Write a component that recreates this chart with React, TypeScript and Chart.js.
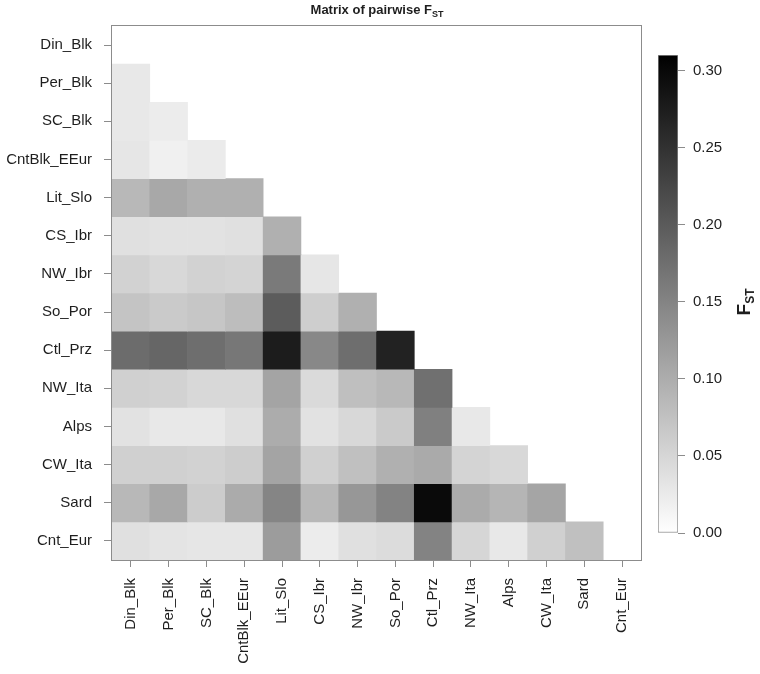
import React, { useEffect, useRef } from "react";
import { Chart, registerables } from "chart.js";

Chart.register(...registerables);

// Populations (matrix rows and columns, in order)
const populations = [
  "Din_Blk", "Per_Blk", "SC_Blk", "CntBlk_EEur", "Lit_Slo", "CS_Ibr", "NW_Ibr",
  "So_Por", "Ctl_Prz", "NW_Ita", "Alps", "CW_Ita", "Sard", "Cnt_Eur",
];

// Lower-triangle pairwise FST, one row per population (columns follow `populations`)
const fstDinBlk: number[] = [];
const fstPerBlk = [0.028];
const fstSCBlk = [0.028, 0.023];
const fstCntBlkEEur = [0.030, 0.018, 0.024];
const fstLitSlo = [0.086, 0.106, 0.096, 0.096];
const fstCSIbr = [0.038, 0.035, 0.035, 0.038, 0.096];
const fstNWIbr = [0.055, 0.047, 0.055, 0.052, 0.162, 0.030];
const fstSoPor = [0.072, 0.064, 0.069, 0.080, 0.198, 0.060, 0.096];
const fstCtlPrz = [0.179, 0.186, 0.176, 0.165, 0.276, 0.145, 0.176, 0.269];
const fstNWIta = [0.057, 0.055, 0.047, 0.047, 0.111, 0.045, 0.078, 0.086, 0.174];
const fstAlps = [0.035, 0.028, 0.028, 0.038, 0.101, 0.035, 0.047, 0.064, 0.154, 0.028];
const fstCWIta = [0.057, 0.057, 0.055, 0.061, 0.111, 0.057, 0.077, 0.096, 0.103, 0.052, 0.047];
const fstSard = [0.086, 0.106, 0.062, 0.102, 0.148, 0.086, 0.126, 0.151, 0.298, 0.102, 0.090, 0.109];
const fstCntEur = [0.038, 0.033, 0.030, 0.030, 0.120, 0.023, 0.038, 0.043, 0.151, 0.050, 0.028, 0.057, 0.077];

const fstRows = [
  fstDinBlk, fstPerBlk, fstSCBlk, fstCntBlkEEur, fstLitSlo, fstCSIbr, fstNWIbr,
  fstSoPor, fstCtlPrz, fstNWIta, fstAlps, fstCWIta, fstSard, fstCntEur,
];

// Colour scale range and colour-bar ticks
const fstMin = 0;
const fstMax = 0.31;
const colorbarTicks = [0, 0.05, 0.1, 0.15, 0.2, 0.25, 0.3];

const FONT = "'Liberation Sans', Arial, Helvetica, sans-serif";
const TEXT = "#1e1e1e";
const LINE = "#8c8c8c";

function grayFor(v: number): string {
  const t = Math.max(0, Math.min(1, (v - fstMin) / (fstMax - fstMin)));
  const g = Math.round(255 * (1 - t));
  return `rgb(${g},${g},${g})`;
}

const framePlugin = {
  id: "frame",
  afterDraw(chart: any) {
    const { ctx, chartArea: a } = chart;
    ctx.save();
    ctx.strokeStyle = LINE;
    ctx.lineWidth = 1;
    ctx.strokeRect(Math.round(a.left) - 0.5, Math.round(a.top) - 0.5, Math.round(a.right - a.left) + 1, Math.round(a.bottom - a.top) + 1);
    ctx.restore();
  },
};

export default function App() {
  const heatRef = useRef<HTMLCanvasElement | null>(null);
  const barRef = useRef<HTMLCanvasElement | null>(null);

  useEffect(() => {
    Chart.defaults.font.family = FONT;
    const datasets = fstRows.map((row, r) => ({
      label: populations[r],
      data: populations.map((_, c) => (c < r ? [r - 0.5, r + 0.5] : null)),
      backgroundColor: populations.map((_, c) => (c < r ? grayFor(row[c]) : "rgba(0,0,0,0)")),
      borderWidth: 0,
      grouped: false,
      barPercentage: 1,
      categoryPercentage: 1,
    }));

    const heat = new Chart(heatRef.current!, {
      type: "bar",
      data: { labels: populations, datasets: datasets as any },
      options: {
        animation: false,
        responsive: false,
        maintainAspectRatio: false,
        layout: { padding: { top: 26, right: 4, left: 0, bottom: 0 } },
        plugins: { legend: { display: false }, tooltip: { enabled: false }, title: { display: false } },
        scales: {
          x: {
            type: "category",
            offset: true,
            border: { display: false },
            grid: { display: true, drawOnChartArea: false, offset: false, tickLength: 7, color: LINE, lineWidth: 1 },
            ticks: { autoSkip: false, minRotation: 90, maxRotation: 90, padding: 11, color: TEXT, font: { size: 15, family: FONT } },
            afterFit: (s: any) => { s.height = 114; s.paddingLeft = 0; s.paddingRight = 0; },
          },
          y: {
            type: "linear",
            min: -0.5,
            max: 13.5,
            reverse: true,
            border: { display: false },
            grid: { display: true, drawOnChartArea: false, tickLength: 8, color: LINE, lineWidth: 1 },
            afterBuildTicks: (axis: any) => { axis.ticks = populations.map((_, i) => ({ value: i })); },
            ticks: {
              autoSkip: false,
              padding: 12,
              color: TEXT,
              font: { size: 15, family: FONT },
              callback: (v: any) => populations[Math.round(Number(v))] ?? "",
            },
            afterFit: (s: any) => { s.width = 112; s.paddingTop = 0; s.paddingBottom = 0; },
          },
        },
      } as any,
      plugins: [framePlugin],
    });

    const bar = new Chart(barRef.current!, {
      type: "bar",
      data: {
        labels: [""],
        datasets: [{
          data: [[fstMin, fstMax]],
          backgroundColor: (ctx: any) => {
            const chart = ctx.chart;
            const ys = chart.scales && chart.scales.y;
            if (!chart.chartArea || !ys) return "#888";
            const g = chart.ctx.createLinearGradient(0, ys.getPixelForValue(fstMin), 0, ys.getPixelForValue(fstMax));
            g.addColorStop(0, grayFor(fstMin));
            g.addColorStop(1, grayFor(fstMax));
            return g;
          },
          borderColor: LINE,
          borderWidth: 1,
          borderSkipped: false,
          barPercentage: 1,
          categoryPercentage: 1,
        } as any],
      },
      options: {
        animation: false,
        responsive: false,
        maintainAspectRatio: false,
        layout: { padding: { top: 55, right: 0, left: 18, bottom: 141 } },
        plugins: { legend: { display: false }, tooltip: { enabled: false } },
        scales: {
          x: { display: false },
          y: {
            type: "linear",
            position: "right",
            min: fstMin,
            max: fstMax,
            border: { display: false },
            grid: { display: true, drawOnChartArea: false, tickLength: 7, color: LINE, lineWidth: 1 },
            afterBuildTicks: (axis: any) => { axis.ticks = colorbarTicks.map((v) => ({ value: v })); },
            ticks: {
              padding: 8,
              color: TEXT,
              font: { size: 15, family: FONT },
              callback: (v: any) => Number(v).toFixed(2),
            },
            afterFit: (s: any) => { s.width = 82; s.paddingTop = 0; s.paddingBottom = 0; },
          },
        },
      } as any,
    });

    return () => {
      heat.destroy();
      bar.destroy();
    };
  }, []);

  return (
    <div style={{ position: "fixed", left: 0, top: 0, width: 760, height: 674, background: "#fff", overflow: "hidden", fontFamily: FONT }}>
      <canvas ref={heatRef} width={645} height={674} style={{ position: "absolute", left: 0, top: 0, width: 645, height: 674 }} />
      <canvas ref={barRef} width={120} height={674} style={{ position: "absolute", left: 640, top: 0, width: 120, height: 674 }} />
      <div style={{ position: "absolute", left: 227, top: 1, width: 300, textAlign: "center", fontWeight: "bold", fontSize: 13, lineHeight: "18px", color: TEXT }}>
        Matrix of pairwise F<sub style={{ fontSize: 9, verticalAlign: -3, lineHeight: 0 }}>ST</sub>
      </div>
      <div style={{ position: "absolute", left: 709, top: 288, width: 70, height: 28, textAlign: "center", fontWeight: "bold", fontSize: 19, lineHeight: "28px", color: TEXT, transform: "rotate(-90deg)" }}>
        F<sub style={{ fontSize: 12, verticalAlign: -4, lineHeight: 0 }}>ST</sub>
      </div>
    </div>
  );
}
